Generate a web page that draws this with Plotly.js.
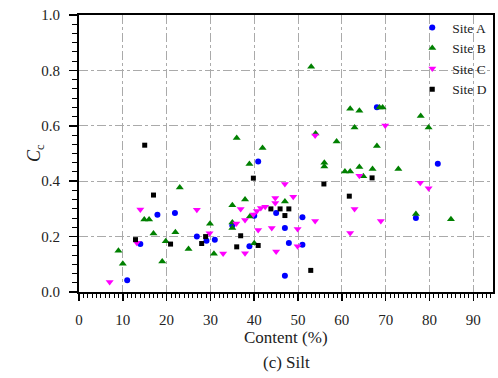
<!DOCTYPE html>
<html>
<head>
<meta charset="utf-8">
<script src="https://cdn.plot.ly/plotly-3.0.1.min.js"></script>
<style>html,body{margin:0;padding:0;background:#fff;}#chart{width:498px;height:378px;}</style>
</head>
<body>
<div id="chart"></div>
<script>
// Site A (blue circles)
const siteA_x = [11, 14, 17.9, 21.9, 26.9, 29.1, 31, 35, 38.9, 40, 40.9, 45, 47, 47, 47.9, 51, 51, 68, 76.9, 81.9];
const siteA_y = [0.042, 0.173, 0.279, 0.285, 0.20, 0.185, 0.189, 0.24, 0.165, 0.275, 0.471, 0.285, 0.059, 0.231, 0.177, 0.27, 0.171, 0.667, 0.267, 0.463];
// Site B (green triangles)
const siteB_x = [9, 10, 14.9, 16, 17, 19, 19.8, 22, 23, 25, 29.9, 30.8, 35, 35, 35, 36, 37.9, 39, 38.9, 40, 41.9, 47, 53, 54, 56, 56, 58.8, 60.7, 61.9, 61.9, 62.9, 64, 64, 64.9, 67, 68, 68.6, 69.3, 72.9, 76.9, 78, 79.8, 84.9];
const siteB_y = [0.149, 0.102, 0.262, 0.262, 0.211, 0.11, 0.183, 0.216, 0.377, 0.155, 0.246, 0.138, 0.313, 0.251, 0.231, 0.556, 0.334, 0.273, 0.462, 0.176, 0.52, 0.327, 0.813, 0.572, 0.467, 0.453, 0.543, 0.435, 0.435, 0.662, 0.594, 0.654, 0.451, 0.418, 0.444, 0.527, 0.666, 0.666, 0.444, 0.282, 0.635, 0.594, 0.263];
// Site C (magenta down-triangles)
const siteC_x = [7, 13.2, 14, 26.9, 29.8, 32.9, 35.9, 36.9, 37.9, 37.9, 39.8, 40.6, 40.9, 41.5, 42.5, 44, 44.8, 44.8, 45, 47, 48.9, 49.9, 49.9, 53.9, 53.9, 61.9, 62.9, 64, 68.9, 69.9, 77.9, 79.8];
const siteC_y = [0.036, 0.178, 0.298, 0.297, 0.212, 0.139, 0.247, 0.30, 0.14, 0.26, 0.28, 0.292, 0.224, 0.303, 0.308, 0.231, 0.339, 0.321, 0.146, 0.39, 0.344, 0.227, 0.165, 0.256, 0.565, 0.213, 0.30, 0.42, 0.256, 0.601, 0.394, 0.375];
// Site D (black squares)
const siteD_x = [12.9, 15, 17, 20.9, 28, 28.9, 36, 36.9, 39.8, 40.9, 43.8, 45.9, 47.9, 47, 52.9, 55.9, 61.7, 66.9];
const siteD_y = [0.189, 0.53, 0.35, 0.173, 0.175, 0.20, 0.163, 0.203, 0.411, 0.168, 0.30, 0.30, 0.30, 0.276, 0.078, 0.39, 0.346, 0.412];

const xTicks = [0, 10, 20, 30, 40, 50, 60, 70, 80, 90];
const yTicks = [0.0, 0.2, 0.4, 0.6, 0.8, 1.0];
const yTickText = ["0.0", "0.2", "0.4", "0.6", "0.8", "1.0"];

const serif = "Liberation Serif";

const traces = [
  {x: siteA_x, y: siteA_y, name: "Site A", mode: "markers", type: "scatter",
   marker: {symbol: "circle", color: "#0000ff", size: 6}},
  {x: siteB_x, y: siteB_y, name: "Site B", mode: "markers", type: "scatter",
   marker: {symbol: "triangle-up", color: "#008000", size: 7}},
  {x: siteC_x, y: siteC_y, name: "Site C", mode: "markers", type: "scatter",
   marker: {symbol: "triangle-down", color: "#ff00ff", size: 7}},
  {x: siteD_x, y: siteD_y, name: "Site D", mode: "markers", type: "scatter",
   marker: {symbol: "square", color: "#000000", size: 5}}
];

const layout = {
  width: 498, height: 378,
  margin: {l: 79, r: 5, t: 15, b: 86},
  paper_bgcolor: "#ffffff", plot_bgcolor: "#ffffff",
  font: {family: serif, size: 14, color: "#222"},
  showlegend: true,
  legend: {x: 0.805, y: 1.01, xanchor: "left", yanchor: "top",
           bgcolor: "rgba(0,0,0,0)", font: {family: serif, size: 13.5, color: "#222"},
           tracegroupgap: 0, itemwidth: 30},
  xaxis: {range: [0, 94.5], tickvals: xTicks, ticktext: xTicks.map(String),
          showline: true, linecolor: "#000", linewidth: 2, mirror: true,
          ticks: "outside", ticklen: 7, tickwidth: 1.5, tickcolor: "#000",
          minor: {dtick: 1, ticks: "outside", ticklen: 4, tickcolor: "#000", tickwidth: 1, showgrid: false},
          showgrid: true, gridcolor: "#aaaaaa", gridwidth: 1, griddash: "dashdot",
          zeroline: false, ticklabelstandoff: 6,
          tickfont: {family: serif, size: 15, color: "#222"}},
  yaxis: {range: [0, 1.0], tickvals: yTicks, ticktext: yTickText,
          showline: true, linecolor: "#000", linewidth: 2, mirror: true,
          ticks: "outside", ticklen: 8, tickwidth: 1.5, tickcolor: "#000",
          minor: {dtick: 0.2/6, ticks: "outside", ticklen: 5, tickcolor: "#000", tickwidth: 1, showgrid: false},
          showgrid: true, gridcolor: "#aaaaaa", gridwidth: 1, griddash: "dashdot",
          zeroline: false, ticklabelstandoff: 6,
          tickfont: {family: serif, size: 15, color: "#222"}},
  annotations: [
    {text: "Content (%)", xref: "paper", yref: "paper", x: 0.5, y: -0.165,
     xanchor: "center", yanchor: "middle", showarrow: false,
     font: {family: serif, size: 17, color: "#222"}},
    {text: "(c) Silt", xref: "paper", yref: "paper", x: 0.5, y: -0.255,
     xanchor: "center", yanchor: "middle", showarrow: false,
     font: {family: serif, size: 17, color: "#222"}},
    {text: "<i>C</i><sub>c</sub>", xref: "paper", yref: "paper", x: -0.105, y: 0.5,
     xanchor: "center", yanchor: "middle", showarrow: false, textangle: -90,
     font: {family: serif, size: 18, color: "#222"}}
  ]
};

Plotly.newPlot("chart", traces, layout, {displayModeBar: false, staticPlot: true});
</script>
</body>
</html>
